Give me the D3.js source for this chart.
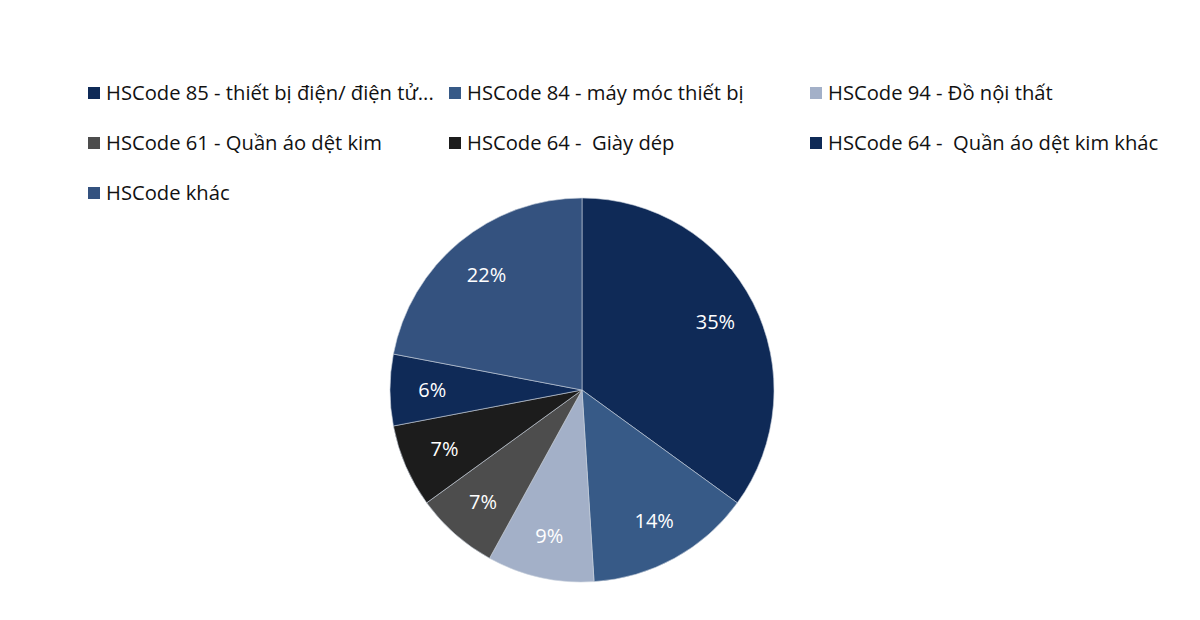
<!DOCTYPE html>
<html><head><meta charset="utf-8">
<script src="https://cdn.jsdelivr.net/npm/d3@7"></script>
<style>body{margin:0;background:#fff;} svg{display:block;} text{white-space:pre;}</style>
</head><body>
<svg id="c" width="1200" height="620"></svg>
<script>
const categories = [
  "HSCode 85 - thiết bị điện/ điện tử...",
  "HSCode 84 - máy móc thiết bị",
  "HSCode 94 - Đồ nội thất",
  "HSCode 61 - Quần áo dệt kim",
  "HSCode 64 -  Giày dép",
  "HSCode 64 -  Quần áo dệt kim khác",
  "HSCode khác"
];
const values = [35, 14, 9, 7, 7, 6, 22];
const colors = ["#0f2a57", "#375a87", "#a3b0c8", "#4d4d4d", "#1c1c1c", "#0f2a57", "#34527f"];

const svg = d3.select("#c");
const cx = 582, cy = 390, R = 192;
const font = "'Open Sans', 'Noto Sans', sans-serif";

const pie = d3.pie().sort(null).value(d => d)(values);
const arc = d3.arc().innerRadius(0).outerRadius(R);
const labelArc = d3.arc().innerRadius(R * 0.78).outerRadius(R * 0.78);

const g = svg.append("g").attr("transform", `translate(${cx},${cy})`);
g.selectAll("path").data(pie).enter().append("path")
  .attr("d", arc).attr("fill", (d, i) => colors[i])
  .attr("stroke", "#c8d0dc").attr("stroke-width", 0.6);
g.selectAll("text").data(pie).enter().append("text")
  .attr("transform", d => `translate(${labelArc.centroid(d)})`)
  .attr("text-anchor", "middle").attr("dy", "0.35em")
  .attr("fill", "#fff").style("font-family", font).style("font-size", "20px")
  .text(d => d.data + "%");

// legend
const colX = [88, 449, 810];
const rowY = [93, 143, 193];
const lg = svg.append("g");
categories.forEach((c, i) => {
  const x = colX[i % 3], y = rowY[Math.floor(i / 3)];
  lg.append("rect").attr("x", x).attr("y", y - 6).attr("width", 12).attr("height", 12).attr("fill", colors[i]);
  lg.append("text").attr("x", x + 18).attr("y", y).attr("dy", "0.35em")
    .attr("fill", "#111").style("font-family", font).style("font-size", "20.2px")
    .text(c);
});
</script>
</body></html>
